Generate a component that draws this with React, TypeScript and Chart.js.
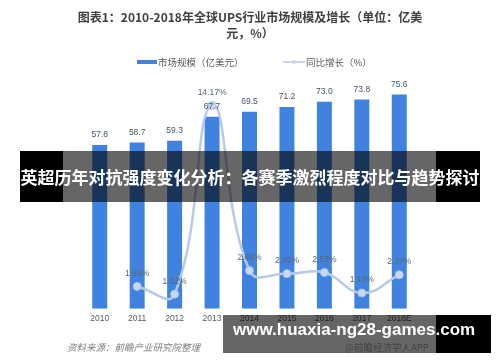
import React, { useEffect, useRef } from "react";
import { Chart, registerables } from "chart.js";

Chart.register(...registerables);

const categories = ["2010", "2011", "2012", "2013", "2014", "2015", "2016", "2017", "2018E"];
const marketSize = [57.8, 58.7, 59.3, 67.7, 69.5, 71.2, 73.0, 73.8, 75.6];
const growthRate = [null, 1.56, 1.02, 14.17, 2.66, 2.45, 2.53, 1.10, 2.37];
const titleLines = ["图表1：2010-2018年全球UPS行业市场规模及增长（单位：亿美", "元，%）"];
const seriesNames = ["市场规模（亿美元）", "同比增长（%）"];
const sourceText = "资料来源：前瞻产业研究院整理";
const appText = "@前瞻经济学人APP";
const bannerText = "英超历年对抗强度变化分析：各赛季激烈程度对比与趋势探讨";
const urlText = "www.huaxia-ng28-games.com";

const BAR_COLOR = "#3f82df";
const LINE_COLOR = "#b7cae9";
const CJK = "'Noto Sans CJK SC', 'Noto Sans', sans-serif";
const NUM = "'Liberation Sans', Arial, sans-serif";

const labelPlugin = {
  id: "valueLabels",
  afterDatasetsDraw(chart: any) {
    const ctx = chart.ctx as CanvasRenderingContext2D;
    ctx.save();
    ctx.textAlign = "center";
    ctx.textBaseline = "middle";
    ctx.font = `8.5px ${NUM}`;
    ctx.fillStyle = "#44546a";
    chart.getDatasetMeta(0).data.forEach((el: any, i: number) => {
      ctx.fillText(marketSize[i].toFixed(1), el.x, el.y - 10);
    });
    ctx.fillStyle = "#5b6675";
    chart.getDatasetMeta(1).data.forEach((el: any, i: number) => {
      const v = growthRate[i];
      if (v == null) return;
      ctx.fillText(v.toFixed(2) + "%", el.x, el.y - 13);
    });
    ctx.restore();
  },
};

const decorPlugin = {
  id: "decor",
  afterDraw(chart: any) {
    const ctx = chart.ctx as CanvasRenderingContext2D;
    const cx = chart.width / 2;
    ctx.save();
    ctx.textBaseline = "middle";
    // title
    ctx.textAlign = "center";
    ctx.fillStyle = "#404040";
    ctx.font = `bold 12px ${CJK}`;
    titleLines.forEach((t, i) => ctx.fillText(t, cx, 17 + i * 16));
    // legend
    ctx.textAlign = "left";
    ctx.font = `9.5px ${CJK}`;
    ctx.fillStyle = BAR_COLOR;
    ctx.fillRect(137, 60, 20, 4);
    ctx.fillStyle = "#595959";
    ctx.fillText(seriesNames[0], 158, 62);
    ctx.strokeStyle = LINE_COLOR;
    ctx.lineWidth = 1.5;
    ctx.beginPath();
    ctx.moveTo(283, 62);
    ctx.lineTo(305, 62);
    ctx.stroke();
    ctx.fillStyle = "#c6d5ee";
    ctx.beginPath();
    ctx.arc(294, 62, 2, 0, Math.PI * 2);
    ctx.fill();
    ctx.fillStyle = "#595959";
    ctx.fillText(seriesNames[1], 306, 62);
    // source
    ctx.font = `italic 9.5px ${CJK}`;
    ctx.fillStyle = "#7f7f7f";
    ctx.fillText(sourceText, 67, 347);
    ctx.font = `9.5px ${CJK}`;
    ctx.fillStyle = "#a6a6a6";
    ctx.fillText(appText, 345, 347);
    ctx.restore();
  },
};

export default function App() {
  const ref = useRef<HTMLCanvasElement>(null);
  useEffect(() => {
    const chart = new Chart(ref.current as HTMLCanvasElement, {
      type: "bar",
      data: {
        labels: categories,
        datasets: [
          {
            type: "bar",
            label: seriesNames[0],
            data: marketSize,
            backgroundColor: BAR_COLOR,
            barPercentage: 0.8,
            categoryPercentage: 0.5,
            yAxisID: "y",
            order: 2,
          },
          {
            type: "line",
            label: seriesNames[1],
            data: growthRate as any,
            borderColor: LINE_COLOR,
            borderWidth: 2.5,
            tension: 0.45,
            pointRadius: 4,
            pointBackgroundColor: "#c9d7ef",
            pointBorderColor: "#aec2e3",
            pointBorderWidth: 1,
            yAxisID: "y1",
            order: 1,
          } as any,
        ],
      },
      options: {
        responsive: false,
        devicePixelRatio: 1,
        animation: false,
        layout: { padding: { top: 82, left: 81, right: 82, bottom: 33 } },
        plugins: {
          legend: { display: false },
          title: { display: false },
          tooltip: { enabled: false },
        },
        scales: {
          x: {
            grid: { display: false, drawTicks: false },
            border: { display: false },
            ticks: { color: "#595959", font: { size: 8.5, family: NUM }, padding: 5 },
          },
          y: { display: false, min: 0, max: 80 },
          y1: { display: false, min: 0, max: 15.8 },
        },
      },
      plugins: [labelPlugin, decorPlugin],
    });
    return () => chart.destroy();
  }, []);

  return (
    <div style={{ position: "absolute", left: 0, top: 0, width: 500, height: 362, overflow: "hidden", background: "#fff" }}>
      <canvas ref={ref} width={500} height={362} style={{ display: "block" }} />
      <div style={{ position: "absolute", left: 20, top: 151, width: 43, height: 51, background: "#000" }} />
      <div style={{ position: "absolute", left: 63, top: 151, width: 373, height: 51, background: "rgba(0,0,0,0.6)" }} />
      <div style={{ position: "absolute", left: 436, top: 151, width: 44, height: 51, background: "#000" }} />
      <div
        style={{
          position: "absolute", left: 0, top: 151, width: 500, height: 51, lineHeight: "51px",
          textAlign: "center", color: "#fff", fontWeight: "bold", fontSize: 17, fontFamily: CJK, whiteSpace: "nowrap",
        }}
      >
        {bannerText}
      </div>
      <div style={{ position: "absolute", left: 223, top: 315, width: 213, height: 38, background: "rgba(0,0,0,0.6)" }} />
      <div style={{ position: "absolute", left: 436, top: 315, width: 55, height: 38, background: "#000" }} />
      <div
        style={{
          position: "absolute", left: 233, top: 315, height: 38, lineHeight: "38px", color: "#fff",
          fontWeight: "bold", fontSize: 17, fontFamily: NUM, whiteSpace: "nowrap", marginTop: -4,
        }}
      >
        {urlText}
      </div>
    </div>
  );
}
